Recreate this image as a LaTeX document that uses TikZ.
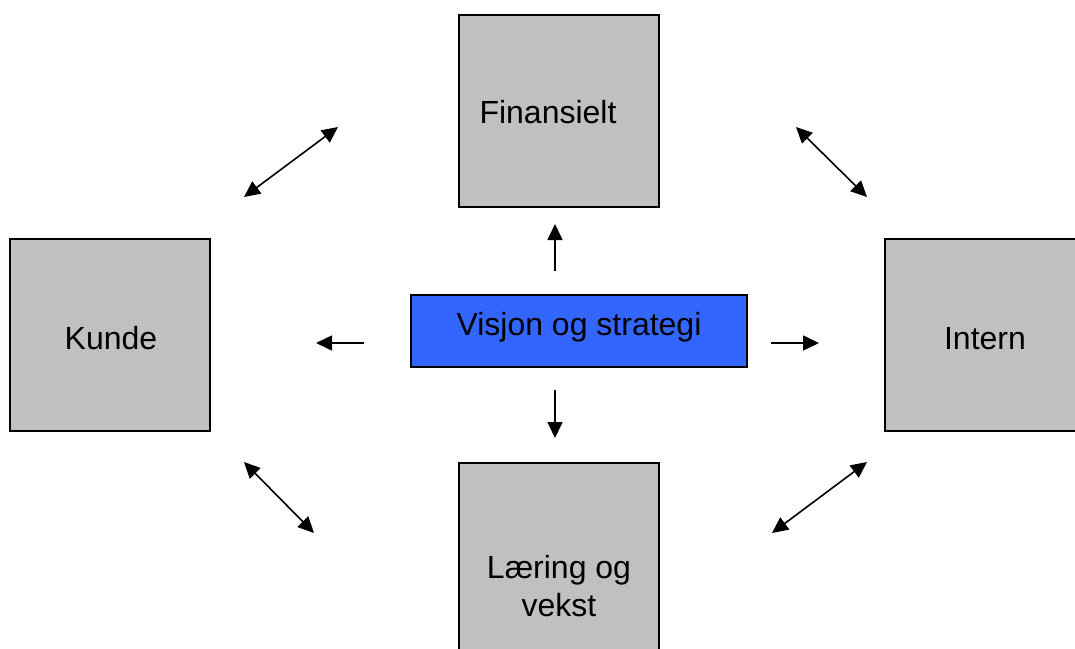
\documentclass[tikz,border=0pt]{standalone}
\usepackage{fontspec}
\setmainfont{Liberation Sans}
\usetikzlibrary{arrows.meta}
\definecolor{boxgray}{HTML}{C0C0C0}
\definecolor{visblue}{HTML}{3366FF}
\begin{document}
\begin{tikzpicture}[x=1pt,y=-1pt,
  sq/.style={draw=black,line width=1.5pt,fill=boxgray,rectangle,inner sep=0pt,minimum width=200pt,minimum height=192pt},
  lbl/.style={anchor=base,inner sep=0pt,font=\fontsize{32}{38}\selectfont},
  conn/.style={line width=1.6pt,-{Triangle[length=16pt,width=15pt]}},
  dconn/.style={line width=1.6pt,{Triangle[length=16pt,width=15pt]}-{Triangle[length=16pt,width=15pt]}}]
\useasboundingbox (0,0) rectangle (1075,648);
\clip (0,0) rectangle (1075,648);
\node[sq] (fin) at (559,111) {};
\node[sq] (kun) at (110,335) {};
\node[sq] (int) at (985,335) {};
\node[sq] (lae) at (559,559) {};
\node[draw=black,line width=1.5pt,fill=visblue,rectangle,inner sep=0pt,minimum width=336pt,minimum height=72pt] (vis) at (579,331) {};
\node[lbl] (tfin) at (548,123) {Finansielt};
\node[lbl] (tkun) at (111,349) {Kunde};
\node[lbl] (tint) at (985,349) {Intern};
\node[lbl] (tlae1) at (559,578) {Læring og};
\node[lbl] (tlae2) at (559,616) {vekst};
\node[lbl] (tvis) at (579,335) {Visjon og strategi};
% straight arrows
\coordinate (u1) at (555,271); \coordinate (u2) at (555,224);
\coordinate (d1) at (555,390); \coordinate (d2) at (555,438);
\coordinate (l1) at (364,343); \coordinate (l2) at (316,343);
\coordinate (r1) at (771,343); \coordinate (r2) at (819,343);
\draw[conn] (u1) -- (u2);
\draw[conn] (d1) -- (d2);
\draw[conn] (l1) -- (l2);
\draw[conn] (r1) -- (r2);
% diagonal double arrows
\coordinate (a1) at (244,197); \coordinate (a2) at (338,127);
\coordinate (b1) at (796,127); \coordinate (b2) at (867,197);
\coordinate (c1) at (244,462); \coordinate (c2) at (314,533);
\coordinate (e1) at (772,533); \coordinate (e2) at (867,462);
\draw[dconn] (a1) -- (a2);
\draw[dconn] (b1) -- (b2);
\draw[dconn] (c1) -- (c2);
\draw[dconn] (e1) -- (e2);
\end{tikzpicture}
\end{document}
